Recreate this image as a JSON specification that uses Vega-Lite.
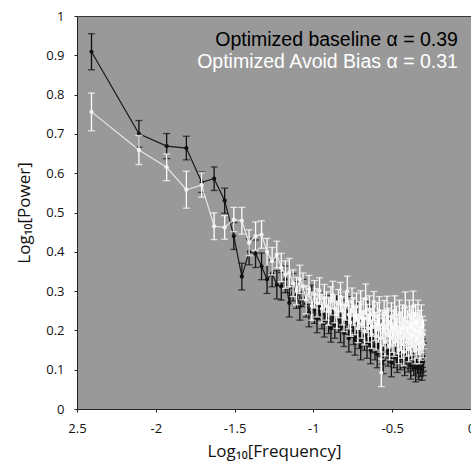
{
  "$schema": "https://vega.github.io/schema/vega-lite/v6.json",
  "description": "Log-log power spectrum, optimized baseline vs optimized avoid bias.",
  "width": 394,
  "height": 393,
  "autosize": {"type": "none"},
  "padding": {"left": 77, "top": 16, "right": 0, "bottom": 59},
  "background": "white",
  "config": {
    "view": {"fill": "#999999", "stroke": "#3a3a3a", "strokeWidth": 1},
    "axis": {
      "grid": false,
      "labelFont": "Open Sans", "labelFontSize": 13, "labelColor": "#111",
      "titleFont": "Open Sans", "titleFontSize": 17, "titleFontWeight": "normal", "titleColor": "#111",
      "domainColor": "#222", "tickColor": "#222", "tickSize": 3
    }
  },
  "data": {"values": [
    {"x":-2.408,"b":0.909,"be":0.046,"w":0.756,"we":0.048},
    {"x":-2.107,"b":0.700,"be":0.034,"w":0.659,"we":0.037},
    {"x":-1.931,"b":0.669,"be":0.032,"w":0.615,"we":0.034},
    {"x":-1.806,"b":0.664,"be":0.030,"w":0.558,"we":0.047},
    {"x":-1.709,"b":0.577,"be":0.026,"w":0.570,"we":0.031},
    {"x":-1.630,"b":0.586,"be":0.030,"w":0.465,"we":0.034},
    {"x":-1.563,"b":0.530,"be":0.032,"w":0.462,"we":0.030},
    {"x":-1.505,"b":0.440,"be":0.034,"w":0.482,"we":0.031},
    {"x":-1.454,"b":0.337,"be":0.034,"w":0.479,"we":0.034},
    {"x":-1.408,"b":0.400,"be":0.033,"w":0.423,"we":0.033},
    {"x":-1.367,"b":0.395,"be":0.035,"w":0.440,"we":0.036},
    {"x":-1.329,"b":0.363,"be":0.034,"w":0.444,"we":0.035},
    {"x":-1.294,"b":0.330,"be":0.036,"w":0.400,"we":0.034},
    {"x":-1.262,"b":0.345,"be":0.034,"w":0.376,"we":0.035},
    {"x":-1.232,"b":0.316,"be":0.036,"w":0.393,"we":0.034},
    {"x":-1.204,"b":0.312,"be":0.035,"w":0.360,"we":0.036},
    {"x":-1.178,"b":0.330,"be":0.034,"w":0.342,"we":0.035},
    {"x":-1.153,"b":0.270,"be":0.036,"w":0.347,"we":0.036},
    {"x":-1.129,"b":0.310,"be":0.035,"w":0.320,"we":0.034},
    {"x":-1.107,"b":0.290,"be":0.034,"w":0.300,"we":0.035},
    {"x":-1.086,"b":0.262,"be":0.036,"w":0.330,"we":0.036},
    {"x":-1.066,"b":0.295,"be":0.035,"w":0.312,"we":0.034},
    {"x":-1.046,"b":0.268,"be":0.034,"w":0.278,"we":0.036},
    {"x":-1.028,"b":0.245,"be":0.036,"w":0.305,"we":0.035},
    {"x":-1.010,"b":0.280,"be":0.035,"w":0.262,"we":0.036},
    {"x":-0.993,"b":0.252,"be":0.034,"w":0.292,"we":0.035},
    {"x":-0.977,"b":0.230,"be":0.036,"w":0.270,"we":0.036},
    {"x":-0.961,"b":0.262,"be":0.035,"w":0.300,"we":0.034},
    {"x":-0.946,"b":0.240,"be":0.036,"w":0.255,"we":0.036},
    {"x":-0.931,"b":0.218,"be":0.035,"w":0.282,"we":0.035},
    {"x":-0.917,"b":0.255,"be":0.034,"w":0.262,"we":0.036},
    {"x":-0.903,"b":0.228,"be":0.036,"w":0.248,"we":0.035},
    {"x":-0.889,"b":0.205,"be":0.035,"w":0.275,"we":0.036},
    {"x":-0.877,"b":0.240,"be":0.036,"w":0.290,"we":0.035},
    {"x":-0.864,"b":0.215,"be":0.035,"w":0.255,"we":0.036},
    {"x":-0.852,"b":0.255,"be":0.036,"w":0.240,"we":0.035},
    {"x":-0.840,"b":0.230,"be":0.035,"w":0.268,"we":0.036},
    {"x":-0.828,"b":0.205,"be":0.036,"w":0.285,"we":0.037},
    {"x":-0.817,"b":0.242,"be":0.035,"w":0.250,"we":0.036},
    {"x":-0.806,"b":0.195,"be":0.036,"w":0.232,"we":0.035},
    {"x":-0.795,"b":0.225,"be":0.035,"w":0.262,"we":0.036},
    {"x":-0.785,"b":0.250,"be":0.036,"w":0.300,"we":0.038},
    {"x":-0.775,"b":0.180,"be":0.035,"w":0.240,"we":0.036},
    {"x":-0.765,"b":0.218,"be":0.036,"w":0.220,"we":0.035},
    {"x":-0.755,"b":0.240,"be":0.035,"w":0.272,"we":0.036},
    {"x":-0.745,"b":0.200,"be":0.036,"w":0.248,"we":0.035},
    {"x":-0.736,"b":0.172,"be":0.035,"w":0.225,"we":0.036},
    {"x":-0.727,"b":0.215,"be":0.036,"w":0.260,"we":0.035},
    {"x":-0.718,"b":0.235,"be":0.035,"w":0.205,"we":0.036},
    {"x":-0.709,"b":0.190,"be":0.036,"w":0.238,"we":0.035},
    {"x":-0.700,"b":0.160,"be":0.035,"w":0.265,"we":0.036},
    {"x":-0.692,"b":0.205,"be":0.036,"w":0.215,"we":0.035},
    {"x":-0.684,"b":0.230,"be":0.035,"w":0.245,"we":0.037},
    {"x":-0.676,"b":0.185,"be":0.036,"w":0.198,"we":0.035},
    {"x":-0.668,"b":0.212,"be":0.035,"w":0.280,"we":0.038},
    {"x":-0.660,"b":0.165,"be":0.036,"w":0.230,"we":0.036},
    {"x":-0.652,"b":0.240,"be":0.035,"w":0.205,"we":0.035},
    {"x":-0.645,"b":0.195,"be":0.036,"w":0.252,"we":0.036},
    {"x":-0.637,"b":0.150,"be":0.035,"w":0.220,"we":0.035},
    {"x":-0.630,"b":0.205,"be":0.036,"w":0.190,"we":0.036},
    {"x":-0.623,"b":0.178,"be":0.035,"w":0.240,"we":0.035},
    {"x":-0.616,"b":0.225,"be":0.036,"w":0.262,"we":0.037},
    {"x":-0.609,"b":0.160,"be":0.035,"w":0.210,"we":0.036},
    {"x":-0.602,"b":0.195,"be":0.036,"w":0.185,"we":0.035},
    {"x":-0.595,"b":0.140,"be":0.035,"w":0.235,"we":0.036},
    {"x":-0.588,"b":0.182,"be":0.036,"w":0.205,"we":0.035},
    {"x":-0.582,"b":0.215,"be":0.035,"w":0.250,"we":0.036},
    {"x":-0.575,"b":0.170,"be":0.036,"w":0.180,"we":0.035},
    {"x":-0.569,"b":0.195,"be":0.035,"w":0.092,"we":0.035},
    {"x":-0.563,"b":0.150,"be":0.036,"w":0.215,"we":0.036},
    {"x":-0.557,"b":0.125,"be":0.035,"w":0.195,"we":0.035},
    {"x":-0.551,"b":0.180,"be":0.036,"w":0.240,"we":0.036},
    {"x":-0.545,"b":0.205,"be":0.035,"w":0.170,"we":0.035},
    {"x":-0.539,"b":0.160,"be":0.036,"w":0.210,"we":0.036},
    {"x":-0.533,"b":0.190,"be":0.035,"w":0.250,"we":0.037},
    {"x":-0.527,"b":0.145,"be":0.036,"w":0.190,"we":0.035},
    {"x":-0.522,"b":0.170,"be":0.035,"w":0.220,"we":0.036},
    {"x":-0.516,"b":0.210,"be":0.036,"w":0.160,"we":0.035},
    {"x":-0.510,"b":0.155,"be":0.035,"w":0.200,"we":0.036},
    {"x":-0.505,"b":0.118,"be":0.036,"w":0.235,"we":0.035},
    {"x":-0.500,"b":0.175,"be":0.035,"w":0.180,"we":0.036},
    {"x":-0.494,"b":0.198,"be":0.036,"w":0.215,"we":0.035},
    {"x":-0.489,"b":0.140,"be":0.035,"w":0.170,"we":0.036},
    {"x":-0.484,"b":0.165,"be":0.036,"w":0.250,"we":0.038},
    {"x":-0.479,"b":0.190,"be":0.035,"w":0.195,"we":0.035},
    {"x":-0.474,"b":0.150,"be":0.036,"w":0.225,"we":0.036},
    {"x":-0.468,"b":0.128,"be":0.035,"w":0.175,"we":0.035},
    {"x":-0.464,"b":0.172,"be":0.036,"w":0.205,"we":0.036},
    {"x":-0.459,"b":0.200,"be":0.035,"w":0.150,"we":0.035},
    {"x":-0.454,"b":0.155,"be":0.036,"w":0.240,"we":0.037},
    {"x":-0.449,"b":0.135,"be":0.035,"w":0.185,"we":0.036},
    {"x":-0.444,"b":0.180,"be":0.036,"w":0.212,"we":0.035},
    {"x":-0.440,"b":0.160,"be":0.035,"w":0.165,"we":0.036},
    {"x":-0.435,"b":0.192,"be":0.036,"w":0.230,"we":0.035},
    {"x":-0.430,"b":0.140,"be":0.035,"w":0.198,"we":0.036},
    {"x":-0.426,"b":0.168,"be":0.036,"w":0.145,"we":0.035},
    {"x":-0.421,"b":0.120,"be":0.035,"w":0.220,"we":0.036},
    {"x":-0.417,"b":0.158,"be":0.036,"w":0.260,"we":0.038},
    {"x":-0.412,"b":0.185,"be":0.035,"w":0.190,"we":0.035},
    {"x":-0.408,"b":0.145,"be":0.036,"w":0.170,"we":0.036},
    {"x":-0.404,"b":0.170,"be":0.035,"w":0.215,"we":0.035},
    {"x":-0.399,"b":0.130,"be":0.036,"w":0.185,"we":0.036},
    {"x":-0.395,"b":0.160,"be":0.035,"w":0.155,"we":0.035},
    {"x":-0.391,"b":0.190,"be":0.036,"w":0.240,"we":0.037},
    {"x":-0.387,"b":0.138,"be":0.035,"w":0.200,"we":0.036},
    {"x":-0.383,"b":0.112,"be":0.036,"w":0.172,"we":0.035},
    {"x":-0.379,"b":0.155,"be":0.035,"w":0.225,"we":0.036},
    {"x":-0.375,"b":0.178,"be":0.036,"w":0.160,"we":0.035},
    {"x":-0.371,"b":0.132,"be":0.035,"w":0.195,"we":0.036},
    {"x":-0.367,"b":0.150,"be":0.036,"w":0.262,"we":0.038},
    {"x":-0.363,"b":0.120,"be":0.035,"w":0.180,"we":0.035},
    {"x":-0.359,"b":0.168,"be":0.036,"w":0.210,"we":0.036},
    {"x":-0.355,"b":0.140,"be":0.035,"w":0.150,"we":0.035},
    {"x":-0.351,"b":0.105,"be":0.036,"w":0.230,"we":0.036},
    {"x":-0.347,"b":0.152,"be":0.035,"w":0.190,"we":0.035},
    {"x":-0.344,"b":0.175,"be":0.036,"w":0.165,"we":0.036},
    {"x":-0.340,"b":0.125,"be":0.035,"w":0.205,"we":0.035},
    {"x":-0.336,"b":0.148,"be":0.036,"w":0.240,"we":0.037},
    {"x":-0.332,"b":0.110,"be":0.035,"w":0.175,"we":0.036},
    {"x":-0.329,"b":0.160,"be":0.036,"w":0.150,"we":0.035},
    {"x":-0.325,"b":0.135,"be":0.035,"w":0.215,"we":0.036},
    {"x":-0.322,"b":0.118,"be":0.036,"w":0.185,"we":0.035},
    {"x":-0.318,"b":0.150,"be":0.035,"w":0.160,"we":0.036},
    {"x":-0.315,"b":0.128,"be":0.036,"w":0.228,"we":0.037},
    {"x":-0.311,"b":0.108,"be":0.035,"w":0.178,"we":0.035},
    {"x":-0.308,"b":0.142,"be":0.036,"w":0.200,"we":0.036},
    {"x":-0.304,"b":0.120,"be":0.035,"w":0.165,"we":0.035},
    {"x":-0.301,"b":0.132,"be":0.036,"w":0.190,"we":0.036}
  ]},
  "encoding": {
    "x": {"field": "x", "type": "quantitative", "title": "Log₁₀[Frequency]",
      "scale": {"domain": [-2.5, 0], "nice": false},
      "axis": {"values": [-2.5, -2, -1.5, -1, -0.5, 0], "labelFlush": false, "labelPadding": 10, "titlePadding": 8,
        "labelOverlap": false,
        "labelExpr": "datum.value == -2.5 ? '2.5' : '' + datum.value"}},
    "y": {"field": "b", "type": "quantitative", "title": "Log₁₀[Power]",
      "scale": {"domain": [0, 1], "nice": false},
      "axis": {"values": [0, 0.1, 0.2, 0.3, 0.4, 0.5, 0.6, 0.7, 0.8, 0.9, 1], "labelOverlap": false,
        "labelExpr": "'' + datum.value", "labelPadding": 10, "titlePadding": 12}}
  },
  "layer": [
    {
      "mark": {"type": "line", "color": "#1a1a1a", "strokeWidth": 1.2}
    },
    {
      "mark": {"type": "errorbar", "color": "#111111", "thickness": 1.3, "ticks": {"size": 7, "color": "#111111"}},
      "encoding": {
        "yError": {"field": "be"}
      }
    },
    {
      "mark": {"type": "circle", "color": "#111111", "size": 18, "opacity": 1}
    },
    {
      "mark": {"type": "line", "color": "#e6e6e6", "strokeWidth": 1.2},
      "encoding": {
        "y": {"field": "w", "type": "quantitative"}
      }
    },
    {
      "mark": {"type": "errorbar", "color": "#ffffff", "thickness": 1.3, "ticks": {"size": 7, "color": "#ffffff"}},
      "encoding": {
        "y": {"field": "w", "type": "quantitative"},
        "yError": {"field": "we"}
      }
    },
    {
      "mark": {"type": "circle", "color": "#f2f2f2", "size": 18, "opacity": 1},
      "encoding": {
        "y": {"field": "w", "type": "quantitative"}
      }
    },
    {
      "data": {"values": [{"label": "Optimized baseline α = 0.39", "x": -0.083, "b": 0.94}]},
      "mark": {"type": "text", "align": "right", "baseline": "middle", "font": "Liberation Sans", "fontSize": 19.5, "fontWeight": "normal", "color": "#000000"},
      "encoding": {
        "text": {"field": "label"}
      }
    },
    {
      "data": {"values": [{"label": "Optimized Avoid Bias α = 0.31", "x": -0.083, "b": 0.884}]},
      "mark": {"type": "text", "align": "right", "baseline": "middle", "font": "Liberation Sans", "fontSize": 19.5, "fontWeight": "normal", "color": "#ffffff"},
      "encoding": {
        "text": {"field": "label"}
      }
    }
  ]
}
